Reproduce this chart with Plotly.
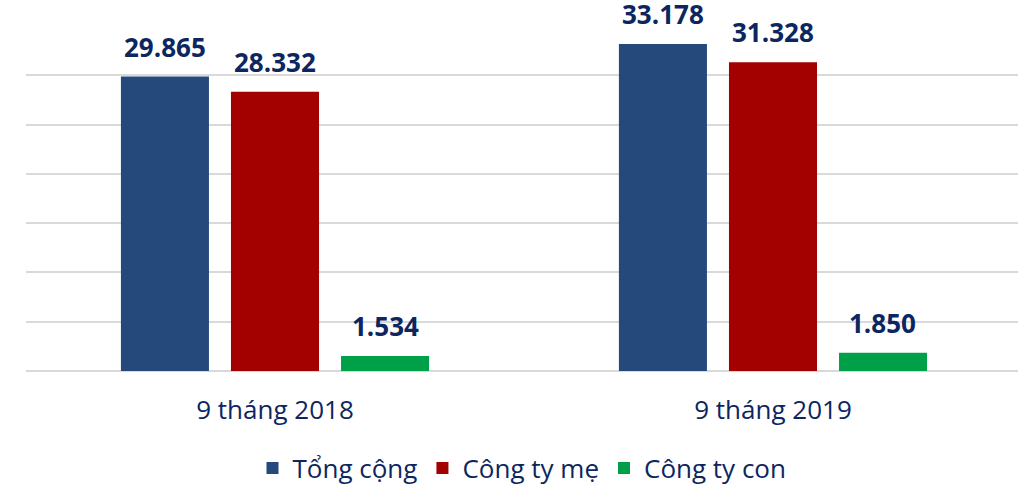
import plotly.graph_objects as go

categories = ["9 tháng 2018", "9 tháng 2019"]
series_names = ["Tổng cộng", "Công ty mẹ", "Công ty con"]
tong_cong = [29865, 33178]
cong_ty_me = [28332, 31328]
cong_ty_con = [1534, 1850]
y_ticks = [0, 5000, 10000, 15000, 20000, 25000, 30000, 35000]

values = [tong_cong, cong_ty_me, cong_ty_con]
colors = ["#26497c", "#a30000", "#00a048"]
navy = "#0c2660"
font_family = "Open Sans, Noto Sans, sans-serif"

fig = go.Figure()
for name, vals, col in zip(series_names, values, colors):
    fig.add_trace(go.Bar(
        x=categories, y=vals, name=name,
        marker=dict(color=col, line=dict(width=0)),
    ))

slot_px = 110
annotations = []
for i, vals in enumerate(values):
    for cat, v in zip(categories, vals):
        annotations.append(dict(
            x=cat, y=v, xref="x", yref="y",
            text=f"{v:,}".replace(",", "."),
            showarrow=False, xanchor="center", yanchor="bottom",
            xshift=(i - 1) * slot_px, yshift=10,
            font=dict(family=font_family, size=26, color=navy, weight="bold"),
        ))

fig.update_layout(
    width=1018, height=485,
    margin=dict(l=26, r=0, t=26, b=114),
    plot_bgcolor="white", paper_bgcolor="white",
    barmode="group", bargap=0.337, bargroupgap=0.2,
    separators=",.",
    annotations=annotations,
    showlegend=True,
    legend=dict(
        orientation="h", x=0.5, xanchor="center",
        yref="container", y=0.035, yanchor="middle",
        font=dict(family=font_family, size=26, color=navy),
        traceorder="normal",
    ),
    xaxis=dict(
        type="category", range=[-0.5, 1.492],
        showgrid=False, zeroline=False, showline=False,
        ticks="", ticklabelstandoff=21,
        tickfont=dict(family=font_family, size=26, color=navy),
    ),
    yaxis=dict(
        range=[0, 35000], tickvals=y_ticks, showticklabels=False,
        showgrid=True, gridcolor="#d9d9d9", gridwidth=1.5,
        zeroline=True, zerolinecolor="#d9d9d9", zerolinewidth=1.5,
        showline=False, ticks="",
    ),
)

fig.write_html(
    "out.html",
    config={"displayModeBar": False},
    post_script="document.body.style.margin='0';document.body.style.padding='0';",
)
